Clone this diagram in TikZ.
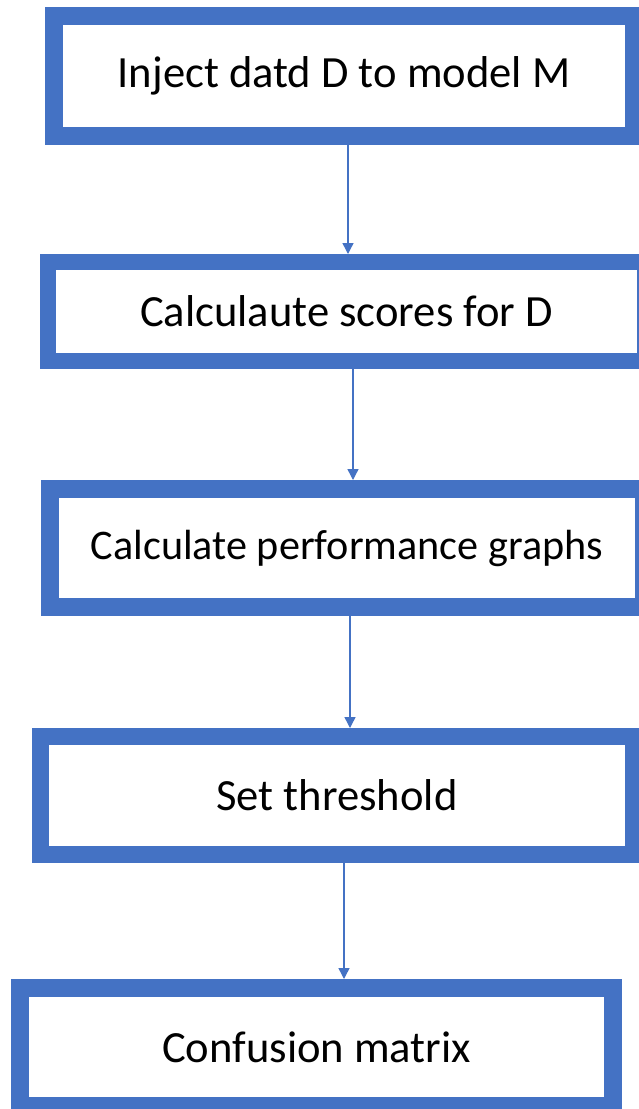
\documentclass[tikz,border=0pt]{standalone}
\usepackage{fontspec}
\setmainfont{Carlito}
\usetikzlibrary{arrows.meta,calc}
\definecolor{officeblue}{HTML}{4472C4}
\begin{document}
\begin{tikzpicture}[x=1pt,y=-1pt,
  stepbox/.style={draw=officeblue,fill=white,inner sep=0pt,line width=#1,
    font=\fontsize{44.6}{52}\selectfont,text=black},
  arr/.style={draw=officeblue,line width=1.4pt,-{Triangle[width=11pt,length=11pt]}}]
\clip (0,0) rectangle (639,1109);
\useasboundingbox (0,0) rectangle (639,1109);
\fill[white] (0,0) rectangle (639,1109);
\node[stepbox=18pt,minimum width=580pt,minimum height=120pt] (b1) at (344,76) {Inject datd D to model M};
\node[stepbox=16pt,minimum width=597pt,minimum height=99pt] (b2) at (346.5,311.5) {Calculaute scores for D};
\node[stepbox=18pt,minimum width=594pt,minimum height=118pt,font=\fontsize{42.2}{50}\selectfont] (b3) at (347,548) {Calculate performance graphs};
\node[stepbox=17pt,minimum width=593pt,minimum height=118pt] (b4) at (337,795.5) {Set threshold};
\node[stepbox=18pt,minimum width=593pt,minimum height=118pt] (b5) at (316.5,1047) {Confusion matrix};
\draw[arr] ($(b1.south)+(4,0)$) -- ($(b2.north)+(1.5,0)$);
\draw[arr] ($(b2.south)+(6.5,0)$) -- ($(b3.north)+(6,0)$);
\draw[arr] ($(b3.south)+(3,0)$) -- ($(b4.north)+(13,0)$);
\draw[arr] ($(b4.south)+(7,0)$) -- ($(b5.north)+(27.5,0)$);
\end{tikzpicture}
\end{document}
